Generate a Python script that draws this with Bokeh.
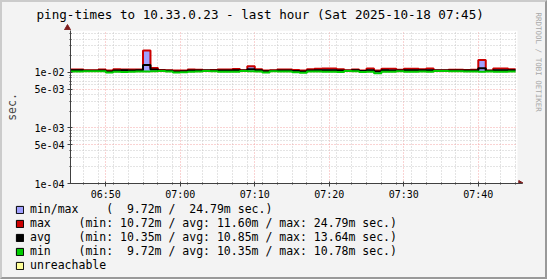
import math
import numpy as np
import pandas as pd
from bokeh.plotting import figure
from bokeh.layouts import column, row
from bokeh.models import (Range1d, FixedTicker, CustomJSTickFormatter, DatetimeTickFormatter,
                          Legend, LegendItem, BoxAnnotation, Label)
from bokeh.embed import file_html
from bokeh.resources import INLINE

# ---------------- data ----------------
title_text = "ping-times to 10.33.0.23 - last hour (Sat 2025-10-18 07:45)"
watermark_text = "RRDTOOL / TOBI OETIKER"
first_bucket = "2025-10-18 06:45:00"      # 1-minute buckets
view_start = "2025-10-18 06:45:16"
view_end = "2025-10-18 07:45:16"

max_ms = [11.30, 11.30, 10.95, 10.95, 11.25, 10.80, 11.40, 11.30, 11.30, 11.35,
          24.79, 12.00, 11.10, 11.00, 10.85, 10.90, 11.35, 11.20, 11.00, 11.05,
          11.30, 11.35, 11.50, 11.00, 13.00, 11.40, 10.90, 10.95, 11.30, 11.30,
          11.10, 10.80, 11.40, 11.70, 11.80, 11.80, 11.40, 10.95, 11.30, 10.90,
          11.75, 10.90, 11.70, 11.70, 11.20, 11.70, 11.70, 11.40, 11.75, 11.00,
          11.00, 11.20, 11.20, 11.10, 11.20, 16.80, 10.90, 11.75, 11.75, 11.40]
avg_ms = [10.95, 10.95, 10.75, 10.75, 10.90, 10.45, 10.90, 10.95, 10.90, 11.00,
          13.64, 11.30, 10.90, 10.70, 10.40, 10.50, 10.90, 10.85, 10.80, 10.80,
          10.90, 10.90, 11.00, 10.80, 11.40, 10.95, 10.50, 10.75, 10.90, 10.90,
          10.60, 10.45, 10.90, 11.00, 10.95, 10.95, 10.80, 10.75, 10.95, 10.60,
          10.95, 10.45, 10.95, 10.90, 10.90, 10.95, 10.95, 10.95, 10.95, 10.80,
          10.80, 10.90, 10.90, 10.85, 10.85, 11.90, 10.70, 10.95, 10.95, 10.95]
min_ms = [10.45, 10.45, 10.55, 10.55, 10.50, 9.95, 10.30, 10.20, 10.30, 10.45,
          10.40, 10.55, 10.65, 10.45, 9.95, 10.05, 10.35, 10.40, 10.60, 10.55,
          10.30, 10.25, 10.30, 10.60, 10.50, 10.45, 10.00, 10.55, 10.45, 10.45,
          10.10, 9.90, 10.40, 10.40, 10.30, 10.30, 10.20, 10.60, 10.50, 10.20,
          10.35, 9.72, 10.35, 10.30, 10.50, 10.30, 10.30, 10.45, 10.35, 10.60,
          10.60, 10.50, 10.50, 10.45, 10.40, 10.35, 10.45, 10.35, 10.35, 10.40]

y_bottom = 1e-4
y_top = 0.057
y_tick_values = [1e-4, 5e-4, 1e-3, 5e-3, 1e-2]
y_tick_labels = ["1e-04", "5e-04", "1e-03", "5e-03", "1e-02"]
y_minor_values = [2e-4, 3e-4, 4e-4, 6e-4, 7e-4, 8e-4, 9e-4,
                  2e-3, 3e-3, 4e-3, 6e-3, 7e-3, 8e-3, 9e-3,
                  2e-2, 3e-2, 4e-2, 5e-2]
x_major_times = ["06:50", "07:00", "07:10", "07:20", "07:30", "07:40"]
x_minor_step_min = 2
day = "2025-10-18"

NB = "\u00a0"
legend_labels = [
    f"min/max{NB*4}({NB*2}9.72m{NB}/{NB*2}24.79m{NB}sec.)",
    f"max{NB*4}(min:{NB}10.72m{NB}/{NB}avg:{NB}11.60m{NB}/{NB}max:{NB}24.79m{NB}sec.)",
    f"avg{NB*4}(min:{NB}10.35m{NB}/{NB}avg:{NB}10.85m{NB}/{NB}max:{NB}13.64m{NB}sec.)",
    f"min{NB*4}(min:{NB*2}9.72m{NB}/{NB}avg:{NB}10.35m{NB}/{NB}max:{NB}10.78m{NB}sec.)",
    "unreachable",
]
legend_colors = ["#a0a0ff", "#cc0000", "#000000", "#00cc00", "#ffff99"]

# ---------------- layout constants (canvas pixels) ----------------
MONO = "DejaVu Sans Mono"
BG = "#f3f3f3"
ARROW = "#7f1f1f"
BW = 2                                   # outer 3-D border width
AREA_L, AREA_R, AREA_T, AREA_B = 67, 517, 30, 183   # white data area
SPLIT_X = 523                            # main plot | watermark strip
SPLIT_Y = 203                            # main plot / legend strip
W_MAIN = SPLIT_X - BW
W_WM = (547 - BW) - SPLIT_X
H_TITLE = AREA_T - BW
H_MAIN = SPLIT_Y - AREA_T
H_LEG = (279 - BW) - SPLIT_Y

def to_ms(ts):
    return pd.Timestamp(ts).value // 10**6

x0, x1 = to_ms(view_start), to_ms(view_end)
ms_per_px = (x1 - x0) / (AREA_R - AREA_L)
def xpix(cx):   # canvas x -> data x
    return x0 + (cx - AREA_L) * ms_per_px

n = len(max_ms)
edges = [to_ms(pd.Timestamp(first_bucket) + pd.Timedelta(minutes=i)) for i in range(n + 1)]
xs = np.repeat(np.array(edges, dtype=float), 2)[1:-1]
def step_vals(v):
    return np.repeat(np.array(v, dtype=float) / 1000.0, 2)

def strip(width, height, cx0, cy0):
    """figure whose data coordinates are canvas pixels (y downwards)"""
    f = figure(width=width, height=height, x_range=Range1d(cx0, cx0 + width),
               y_range=Range1d(cy0 + height, cy0), output_backend="svg",
               toolbar_location=None, x_axis_location=None, y_axis_location=None, min_border=0)
    f.frame_align = False
    f.background_fill_color = BG
    f.border_fill_color = BG
    f.outline_line_color = None
    f.xgrid.visible = False
    f.ygrid.visible = False
    return f

# ---------------- title strip ----------------
t = strip(W_MAIN, H_TITLE, BW, BW)
t.add_layout(Label(x=36, y=13.5, text=title_text, text_font=MONO, text_font_size="12.6px",
                   text_align="left", text_baseline="middle", text_color="#000000"))
t.scatter(x=[AREA_L], y=[AREA_T - 2.5], marker="triangle", size=6,
          fill_color=ARROW, line_color=ARROW)

# ---------------- main plot ----------------
p = figure(width=W_MAIN, height=H_MAIN, x_axis_type="datetime", y_axis_type="log",
           x_range=Range1d(x0, xpix(SPLIT_X)), y_range=Range1d(y_bottom, y_top),
           output_backend="svg", toolbar_location=None,
           min_border_left=AREA_L - BW, min_border_right=0,
           min_border_top=0, min_border_bottom=SPLIT_Y - AREA_B)
p.frame_align = False
p.background_fill_color = BG
p.border_fill_color = BG
p.outline_line_color = None
p.add_layout(BoxAnnotation(left=x0, right=x1, bottom=y_bottom, top=y_top,
                           fill_color="#ffffff", fill_alpha=1, line_color=None, level="image"))

x_major = [to_ms(f"{day} {tm}") for tm in x_major_times]
x_minor = [to_ms(pd.Timestamp(view_start).floor("min") + pd.Timedelta(minutes=m))
           for m in range(0, 62) if m % x_minor_step_min == 0]
xt = FixedTicker(ticks=x_major, minor_ticks=x_minor)
yt = FixedTicker(ticks=y_tick_values, minor_ticks=y_minor_values)
p.xaxis.ticker = xt
p.yaxis.ticker = yt
p.xgrid.ticker = xt
p.ygrid.ticker = yt
p.xgrid.bounds = (x0, x1)
p.ygrid.cross_bounds = (x0, x1)
p.xaxis.bounds = (x0, xpix(522))

p.xaxis.formatter = DatetimeTickFormatter(minutes="%H:%M", hourmin="%H:%M", hours="%H:%M",
                                          minsec="%H:%M", seconds="%H:%M")
p.yaxis.formatter = CustomJSTickFormatter(args=dict(vals=y_tick_values, labels=y_tick_labels), code="""
let best = 0;
for (let i = 0; i < vals.length; i++) {
  if (Math.abs(Math.log(vals[i]) - Math.log(tick)) < Math.abs(Math.log(vals[best]) - Math.log(tick))) best = i;
}
return labels[best];
""")

for g in (p.xgrid, p.ygrid):
    g.grid_line_color = "#f4a6a6"
    g.grid_line_dash = "1 2"
    g.minor_grid_line_color = "#c8c8c8"
    g.minor_grid_line_dash = "1 2"

for ax in (p.xaxis, p.yaxis):
    ax.axis_line_color = "#404040"
    ax.major_tick_line_color = "#404040"
    ax.minor_tick_line_color = "#404040"
    ax.major_tick_in = 2
    ax.major_tick_out = 3
    ax.minor_tick_in = 1
    ax.minor_tick_out = 1
    ax.major_label_text_font = MONO
    ax.major_label_text_font_size = "10px"
    ax.major_label_text_color = "#000000"
p.xaxis.major_label_standoff = 2
p.yaxis.major_label_standoff = 3
p.yaxis.axis_label = "sec."
p.yaxis.axis_label_text_font = MONO
p.yaxis.axis_label_text_font_size = "11.5px"
p.yaxis.axis_label_text_font_style = "normal"
p.yaxis.axis_label_standoff = 12

p.varea(x=xs, y1=step_vals(min_ms), y2=step_vals(max_ms), fill_color="#a0a0ff")
p.line(xs, step_vals(max_ms), line_color="#cc0000", line_width=2)
p.line(xs, step_vals(avg_ms), line_color="#000000", line_width=2)
p.line(xs, step_vals(min_ms), line_color="#00cc00", line_width=2)

p.scatter(x=[xpix(520)], y=[y_bottom], marker="triangle", size=6,
          angle=-math.pi / 2, fill_color=ARROW, line_color=ARROW)

# ---------------- watermark strip ----------------
wmf = strip(W_WM, SPLIT_Y - BW, SPLIT_X, BW)
wmf.add_layout(Label(x=537.5, y=12, text=watermark_text, angle=-math.pi / 2,
                     text_font=MONO, text_font_size="7.5px", text_align="left",
                     text_baseline="middle", text_color="#a8a8a8"))

# ---------------- legend strip ----------------
q = strip(547 - 2 * BW, H_LEG, BW, SPLIT_Y)
items = []
off = -1000  # legend-only sample glyphs, placed outside the visible range
for lbl, col in zip(legend_labels, legend_colors):
    r = q.quad(left=[off], right=[off + 1], top=[off + 1], bottom=[off], fill_color=col,
               line_color="#000000", line_width=1)
    items.append(LegendItem(label=lbl, renderers=[r]))
leg = Legend(items=items, location=(15 - BW, (279 - BW) - 272.3), orientation="vertical",
             glyph_width=9, glyph_height=9, label_height=14, label_width=10, spacing=0,
             padding=0, margin=0, label_standoff=6, background_fill_alpha=0,
             border_line_color=None, label_text_font=MONO, label_text_font_size="11.5px",
             label_text_color="#000000")
q.add_layout(leg)

layout = column(row(column(t, p, spacing=0), wmf, spacing=0), q, spacing=0,
                styles={"border-style": "solid", "border-width": f"{BW}px",
                        "border-color": "#cbcbcb #999999 #999999 #cbcbcb",
                        "background-color": BG})

open("out.html", "w").write(file_html(layout, INLINE))
